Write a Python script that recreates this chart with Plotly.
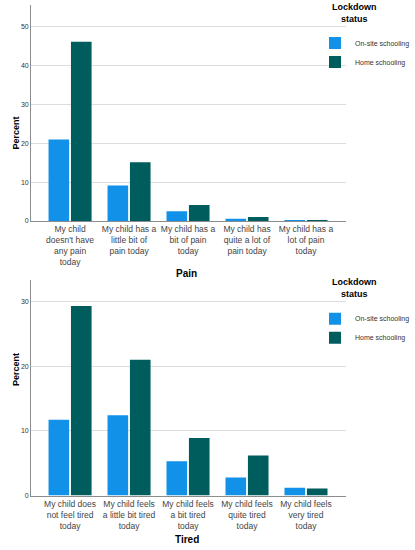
import plotly.graph_objects as go
from plotly.subplots import make_subplots

groups = ["On-site schooling", "Home schooling"]
group_colors = ["#1192e8", "#005d5d"]

pain_labels = ["My child<br>doesn't have<br>any pain<br>today",
               "My child has a<br>little bit of<br>pain today",
               "My child has a<br>bit of pain<br>today",
               "My child has<br>quite a lot of<br>pain today",
               "My child has a<br>lot of pain<br>today"]
pain_onsite = [21.0, 9.1, 2.5, 0.6, 0.2]
pain_home = [46.1, 15.1, 4.1, 1.0, 0.2]

tired_labels = ["My child does<br>not feel tired<br>today",
                "My child feels<br>a little bit tired<br>today",
                "My child feels<br>a bit tired<br>today",
                "My child feels<br>quite tired<br>today",
                "My child feels<br>very tired<br>today"]
tired_onsite = [11.7, 12.4, 5.3, 2.8, 1.2]
tired_home = [29.3, 21.0, 8.9, 6.2, 1.1]

FONT = "Arial, Liberation Sans, sans-serif"

fig = make_subplots(rows=2, cols=1)

panels = [(1, pain_labels, [pain_onsite, pain_home], "legend"),
          (2, tired_labels, [tired_onsite, tired_home], "legend2")]
for row, labels, series, leg in panels:
    for name, vals, col in zip(groups, series, group_colors):
        fig.add_trace(go.Bar(x=labels, y=vals, name=name, marker_color=col,
                             marker_line_width=0, legend=leg), row=row, col=1)

axis_style = dict(showline=True, linecolor="#8c8c8c", linewidth=1, ticks="")
fig.update_xaxes(**axis_style, domain=[0.075, 0.834], range=[-0.66, 4.68],
                 tickangle=0, ticklabelstandoff=0,
                 tickfont=dict(size=8.5, color="#444444", family=FONT))
fig.update_yaxes(**axis_style, dtick=10, showgrid=True, gridcolor="#dddddd",
                 zeroline=False, tickfont=dict(size=7, color="#333333", family=FONT))
fig.update_yaxes(domain=[0.596, 0.991], range=[0, 55.6], row=1, col=1)
fig.update_yaxes(domain=[0.094, 0.488], range=[0, 33.3], row=2, col=1)

leg_style = dict(x=1.0, xanchor="right", yanchor="top", bgcolor="rgba(0,0,0,0)",
                 font=dict(size=7, color="#333333", family=FONT),
                 itemwidth=30, tracegroupgap=0)
fig.update_layout(legend=dict(**leg_style, y=0.948),
                  legend2=dict(**leg_style, y=0.444))

# legend titles, centred over the legend boxes
for y in [0.953, 0.449]:
    fig.add_annotation(text="<b>Lockdown<br>status</b>", x=0.913, y=y,
                       xref="paper", yref="paper", yanchor="bottom",
                       showarrow=False, font=dict(size=9, color="#000000", family=FONT))

for txt, y in [("Pain", 0.5), ("Tired", 0.014)]:
    fig.add_annotation(text="<b>%s</b>" % txt, x=0.45, y=y, xref="paper", yref="paper",
                       yanchor="middle", showarrow=False,
                       font=dict(size=10, color="#000000", family=FONT))
for y in [0.79, 0.29]:
    fig.add_annotation(text="<b>Percent</b>", x=0.022, y=y, xref="paper", yref="paper",
                       textangle=-90, showarrow=False,
                       font=dict(size=9, color="#000000", family=FONT))

fig.update_layout(width=415, height=550, margin=dict(l=0, r=0, t=0, b=0),
                  plot_bgcolor="white", paper_bgcolor="white",
                  barmode="group", bargap=0.24, bargroupgap=0.08,
                  font=dict(family=FONT))

fig.write_html("out.html", config={"displayModeBar": False},
               post_script="document.body.style.margin='0';")
